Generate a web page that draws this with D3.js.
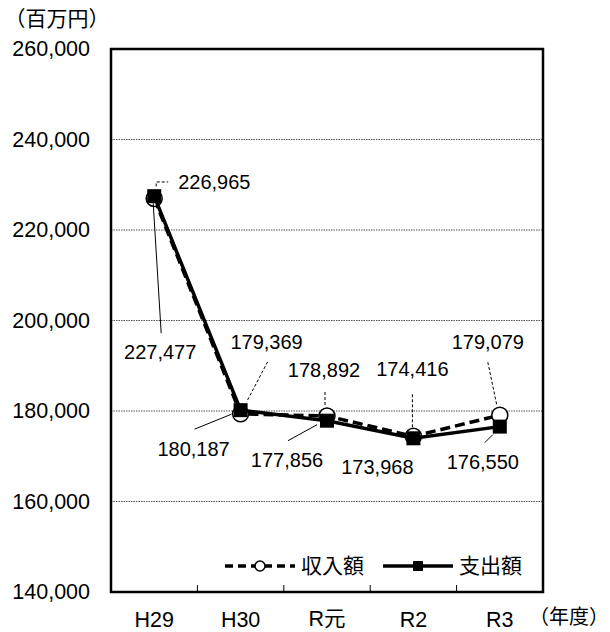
<!DOCTYPE html>
<html><head><meta charset="utf-8">
<script src="https://cdn.jsdelivr.net/npm/d3@7"></script>
<style>
html,body{margin:0;padding:0;background:#fff;}
svg{display:block;}
text{font-family:"Liberation Sans",Arial,sans-serif;fill:#000;}
.jp{font-family:"Noto Sans CJK JP","Noto Sans CJK SC",sans-serif;}
</style></head>
<body>
<script>
const categories = ["H29", "H30", "R元", "R2", "R3"];
const revenue = [226965, 179369, 178892, 174416, 179079];      // 収入額
const expenditure = [227477, 180187, 177856, 173968, 176550];  // 支出額
const yTicks = [140000, 160000, 180000, 200000, 220000, 240000, 260000];
const seriesNames = ["収入額", "支出額"];

// label placement offsets (relative to the point): text centre and leader line
const revLabelPos = [
  {dx: 24, dy: -16, anchor: "start", leader: [[2,-12],[2,-16.5],[14,-16.5]]},
  {dx: 26, dy: -72, anchor: "middle", leader: [[27,-52],[6,-12]]},
  {dx: -3, dy: -46, anchor: "middle", leader: [[-2,-24],[-2,-9]]},
  {dx: -1, dy: -67, anchor: "middle", leader: [[-1,-42],[-1,-8]]},
  {dx: -12, dy: -73, anchor: "middle", leader: [[-12,-53],[-3,-10]]}
];
const expLabelPos = [
  {dx: 6, dy: 156, anchor: "middle", leader: [[-1,7],[7,137]]},
  {dx: -47, dy: 39, anchor: "middle", leader: [[-46,19],[-9,4]]},
  {dx: -40, dy: 39, anchor: "middle", leader: [[-39,20],[-10,4]]},
  {dx: -36, dy: 29, anchor: "middle", leader: null},
  {dx: -17, dy: 35, anchor: "middle", leader: [[-15,16],[-7,8]]}
];

const W = 610, H = 632;
const m = {left: 111, right: 543, top: 49, bottom: 592};
const svg = d3.select("body").append("svg").attr("width", W).attr("height", H);

const x = d3.scaleBand().domain(categories).range([m.left, m.right]);
const y = d3.scaleLinear().domain([140000, 260000]).range([m.bottom, m.top]);
const cx = c => x(c) + x.bandwidth() / 2;
const fmt = d3.format(",");

// gridlines
svg.append("g").selectAll("line").data(yTicks.filter(t => t > 140000 && t < 260000)).join("line")
  .attr("x1", m.left).attr("x2", m.right)
  .attr("y1", d => y(d)).attr("y2", d => y(d))
  .attr("stroke", "#555").attr("stroke-width", 1).attr("stroke-dasharray", "1.5,1");

// y-axis labels
const yAxis = d3.axisLeft(y).tickValues(yTicks).tickFormat(fmt).tickSize(0).tickPadding(21);
const gy = svg.append("g").attr("transform", `translate(${m.left},0)`).call(yAxis);
gy.select(".domain").remove();
gy.selectAll("text").style("font-size", "21.5px").style("font-family", '"Liberation Sans",Arial,sans-serif').attr("fill", "#000");

// x-axis labels
const xAxis = d3.axisBottom(x).tickSize(0).tickPadding(20);
const gx = svg.append("g").attr("transform", `translate(0,${m.bottom})`).call(xAxis);
gx.select(".domain").remove();
gx.selectAll("text").style("font-size", "21.5px").style("font-family", '"Liberation Sans",Arial,sans-serif').attr("fill", "#000");
gx.selectAll("text").filter(d => d === "R元").attr("dy", "0.64em")
  .each(function(){
    const t = d3.select(this); t.text("");
    t.append("tspan").text("R");
    t.append("tspan").attr("class","jp").style("font-family",'"Noto Sans CJK JP",sans-serif').text("元");
  });

// inner ticks at category boundaries
svg.append("g").selectAll("line").data(categories.slice(1)).join("line")
  .attr("x1", d => x(d)).attr("x2", d => x(d))
  .attr("y1", m.bottom).attr("y2", m.bottom - 7)
  .attr("stroke", "#000").attr("stroke-width", 1);

// frame
svg.append("rect").attr("x", m.left).attr("y", m.top)
  .attr("width", m.right - m.left).attr("height", m.bottom - m.top)
  .attr("fill", "none").attr("stroke", "#000").attr("stroke-width", 2.5);

// unit labels
svg.append("text").attr("class", "jp").attr("x", 4.5).attr("y", 19).attr("dy", "0.35em")
  .style("font-size", "21px").text("（百万円）");
svg.append("text").attr("class", "jp").attr("x", 529).attr("y", 617).attr("dy", "0.35em")
  .style("font-size", "20px").text("（年度）");

const line = d3.line().x(d => cx(d.c)).y(d => y(d.v));
const revData = categories.map((c, i) => ({c, v: revenue[i]}));
const expData = categories.map((c, i) => ({c, v: expenditure[i]}));

// revenue series (dashed, open circles)
svg.append("path").datum(revData).attr("d", line)
  .attr("fill", "none").attr("stroke", "#000").attr("stroke-width", 3.5).attr("stroke-dasharray", "10,5");
svg.append("g").selectAll("circle").data(revData).join("circle")
  .attr("cx", d => cx(d.c)).attr("cy", d => y(d.v)).attr("r", 8)
  .attr("fill", "#fff").attr("stroke", "#000").attr("stroke-width", 1.5);

// expenditure series (solid, filled squares)
svg.append("path").datum(expData).attr("d", line)
  .attr("fill", "none").attr("stroke", "#000").attr("stroke-width", 3.5);
svg.append("g").selectAll("rect").data(expData).join("rect")
  .attr("x", d => cx(d.c) - 7).attr("y", d => y(d.v) - 7).attr("width", 14).attr("height", 14)
  .attr("fill", "#000");

// data labels with leader lines
function drawLabels(data, pos, dashed) {
  const g = svg.append("g");
  data.forEach((d, i) => {
    const px = cx(d.c), py = y(d.v), p = pos[i];
    if (p.leader) {
      g.append("polyline")
        .attr("points", p.leader.map(q => `${px + q[0]},${py + q[1]}`).join(" "))
        .attr("fill", "none").attr("stroke", "#000").attr("stroke-width", 1)
        .attr("stroke-dasharray", dashed ? "3,2" : null);
    }
    g.append("text").attr("x", px + p.dx).attr("y", py + p.dy).attr("dy", "0.35em")
      .attr("text-anchor", p.anchor).style("font-size", "20px").text(fmt(d.v));
  });
}
drawLabels(revData, revLabelPos, true);
drawLabels(expData, expLabelPos, false);

// legend
const lg = svg.append("g");
const ly = 566;
lg.append("line").attr("x1", 225).attr("x2", 295).attr("y1", ly).attr("y2", ly)
  .attr("stroke", "#000").attr("stroke-width", 3.5).attr("stroke-dasharray", "8,5");
lg.append("circle").attr("cx", 260).attr("cy", ly).attr("r", 5)
  .attr("fill", "#fff").attr("stroke", "#000").attr("stroke-width", 1.5);
lg.append("text").attr("class", "jp").attr("x", 301).attr("y", ly).attr("dy", "0.35em")
  .style("font-size", "21px").text(seriesNames[0]);
lg.append("line").attr("x1", 383).attr("x2", 453).attr("y1", ly).attr("y2", ly)
  .attr("stroke", "#000").attr("stroke-width", 3.5);
lg.append("rect").attr("x", 413).attr("y", ly - 5).attr("width", 10).attr("height", 10).attr("fill", "#000");
lg.append("text").attr("class", "jp").attr("x", 459).attr("y", ly).attr("dy", "0.35em")
  .style("font-size", "21px").text(seriesNames[1]);
</script>
</body></html>
